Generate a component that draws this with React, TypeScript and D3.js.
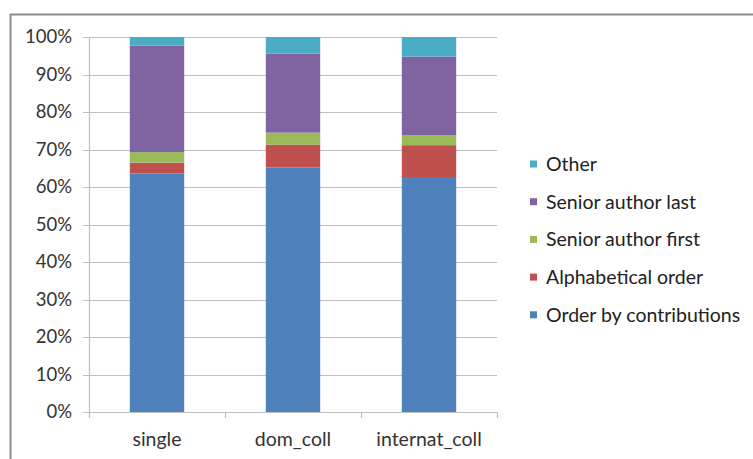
import React from "react";
import * as d3 from "d3";

const categories = ["single", "dom_coll", "internat_coll"];
const seriesNames = ["Order by contributions", "Alphabetical order", "Senior author first", "Senior author last", "Other"];
const contributions = [63.6, 65.2, 62.1];
const alphabetical = [2.9, 6.1, 8.7];
const seniorFirst = [2.8, 3.2, 2.7];
const seniorLast = [28.4, 21.1, 20.8];
const other = [2.3, 4.4, 5.2];
const colors = ["#4f81bd", "#c0504d", "#9bbb59", "#8064a2", "#4bacc6"];
const yTicks = [0, 10, 20, 30, 40, 50, 60, 70, 80, 90, 100];

export default function App() {
  const W = 753, H = 459;
  const left = 89, right = 497, top = 37, bottom = 412;
  const y = d3.scaleLinear().domain([0, 100]).range([bottom, top]);
  const rows = categories.map((c, i) => ({
    cat: c,
    "Order by contributions": contributions[i],
    "Alphabetical order": alphabetical[i],
    "Senior author first": seniorFirst[i],
    "Senior author last": seniorLast[i],
    "Other": other[i],
  }));
  const stack = d3.stack<any>().keys(seriesNames).offset(d3.stackOffsetExpand);
  const layers = stack(rows);
  const band = d3.scaleBand().domain(categories).range([left, right]);
  const font = "Lato, 'Open Sans', sans-serif";
  const legendOrder = [...seriesNames].reverse();
  return (
    <svg width={W} height={H} style={{ position: "absolute", left: 0, top: 0 }}>
      <rect x={0} y={0} width={W} height={H} fill="#fff" />
      <line x1={10} y1={14.5} x2={W} y2={14.5} stroke="#8c8c8c" strokeWidth={2} />
      <line x1={10.5} y1={14} x2={10.5} y2={H} stroke="#8c8c8c" strokeWidth={2} />
      {yTicks.map((t) => (
        <g key={t}>
          <line x1={left - 6} x2={right} y1={Math.round(y(t)) + 0.5} y2={Math.round(y(t)) + 0.5} stroke="#bfbfbf" strokeWidth={1.2} />
          <text x={72} y={y(t)} dy="0.35em" textAnchor="end" fontFamily={font} fontSize={18.5} fill="#333">{t}%</text>
        </g>
      ))}
      <line x1={left + 0.5} x2={left + 0.5} y1={top} y2={bottom + 6} stroke="#bfbfbf" strokeWidth={1.2} />
      {categories.map((c) => (
        <line key={c} x1={(band(c) as number) + band.bandwidth() + 0.5} x2={(band(c) as number) + band.bandwidth() + 0.5} y1={bottom} y2={bottom + 6} stroke="#bfbfbf" strokeWidth={1.2} />
      ))}
      {layers.map((layer, li) => (
        <g key={layer.key} fill={colors[li]}>
          {layer.map((d: any) => (
            <rect key={d.data.cat} x={(band(d.data.cat) as number) + band.bandwidth() * 0.3} width={band.bandwidth() * 0.4}
              y={y(d[1] * 100)} height={y(d[0] * 100) - y(d[1] * 100)} />
          ))}
        </g>
      ))}
      {categories.map((c) => (
        <text key={c} x={(band(c) as number) + band.bandwidth() / 2} y={439} dy="0.35em" textAnchor="middle" fontFamily={font} fontSize={19.5} fill="#333">{c}</text>
      ))}
      {legendOrder.map((name, i) => {
        const ci = seriesNames.indexOf(name);
        const ly = 164 + i * 37.7;
        return (
          <g key={name}>
            <rect x={530} y={ly - 3.5} width={7} height={7} fill={colors[ci]} />
            <text x={546} y={ly} dy="0.35em" fontFamily={font} fontSize={19.5} fill="#222">{name}</text>
          </g>
        );
      })}
    </svg>
  );
}
